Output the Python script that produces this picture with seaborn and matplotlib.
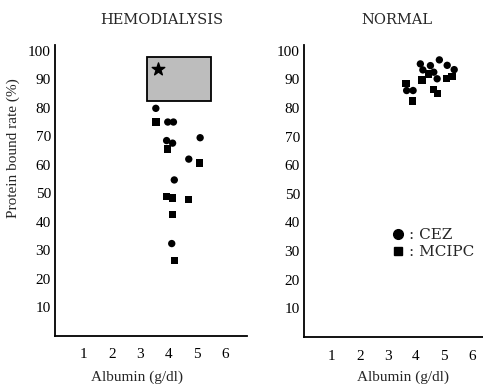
import numpy as np
import pandas as pd
import matplotlib
matplotlib.use("Agg")
import matplotlib.pyplot as plt
from matplotlib.patches import Rectangle
from matplotlib.lines import Line2D
import seaborn as sns

sns.set_theme(style="white")
plt.rcParams['font.family'] = ['Liberation Serif', 'DejaVu Serif']

# ---- data ----
hemo_cez_alb = [3.55, 3.97, 4.17, 5.11, 3.93, 4.14, 4.71, 4.20, 4.11]
hemo_cez_rate = [79.8, 75.0, 75.0, 69.5, 68.5, 67.6, 62.0, 54.7, 32.4]
hemo_mcipc_alb = [3.56, 3.97, 5.08, 3.93, 4.13, 4.69, 4.13, 4.20]
hemo_mcipc_rate = [75.0, 65.5, 60.6, 48.9, 48.4, 47.8, 42.5, 26.4]

norm_cez_alb = [4.16, 4.52, 4.84, 5.12, 5.37, 4.25, 4.64, 4.76, 3.67, 3.90]
norm_cez_rate = [95.4, 94.8, 96.8, 94.9, 93.4, 93.3, 92.5, 90.2, 86.1, 86.1]
norm_mcipc_alb = [4.46, 4.22, 5.09, 5.29, 3.65, 3.88, 4.64, 4.78]
norm_mcipc_rate = [91.9, 89.8, 90.4, 91.1, 88.6, 82.4, 86.4, 85.0]

box_alb = [3.23, 5.48]
box_rate = [82.4, 97.7]
star_alb = [3.64]
star_rate = [93.5]

x_ticks = [1, 2, 3, 4, 5, 6]
y_ticks = [10, 20, 30, 40, 50, 60, 70, 80, 90, 100]
titles = ["HEMODIALYSIS", "NORMAL"]
drugs = ["CEZ", "MCIPC"]

def frame(cez_x, cez_y, mc_x, mc_y):
    return pd.DataFrame({
        "alb": list(cez_x) + list(mc_x),
        "rate": list(cez_y) + list(mc_y),
        "drug": [drugs[0]] * len(cez_x) + [drugs[1]] * len(mc_x),
    })

df_h = frame(hemo_cez_alb, hemo_cez_rate, hemo_mcipc_alb, hemo_mcipc_rate)
df_n = frame(norm_cez_alb, norm_cez_rate, norm_mcipc_alb, norm_mcipc_rate)

fig = plt.figure(figsize=(4.83, 3.84), dpi=100)
ax1 = fig.add_axes([55 / 483, 48 / 384, 192 / 483, 291 / 384])
ax2 = fig.add_axes([304 / 483, 47 / 384, 179 / 483, 292 / 384])

markers = {"CEZ": "o", "MCIPC": "s"}

# shaded box behind the hemodialysis points
ax1.add_patch(Rectangle((box_alb[0], box_rate[0]), box_alb[1] - box_alb[0],
                        box_rate[1] - box_rate[0], facecolor="#bdbdbd",
                        edgecolor="black", linewidth=1.3, zorder=1))
ax1.scatter(star_alb, star_rate, marker="*", s=90, color="black", zorder=3)

sns.scatterplot(data=df_h, x="alb", y="rate", style="drug", markers=markers,
                color="black", s=28, linewidth=0, ax=ax1, legend=False, zorder=3)
sns.scatterplot(data=df_n, x="alb", y="rate", style="drug", markers=markers,
                color="black", s=28, linewidth=0, ax=ax2, legend=False, zorder=3)

for ax, xmax in ((ax1, 6.76), (ax2, 6.4)):
    ax.set_xlim(0, xmax)
    ax.set_ylim(0, 102)
    ax.set_xticks(x_ticks)
    ax.set_yticks(y_ticks)
    ax.set_xticklabels([str(v) for v in x_ticks])
    ax.set_yticklabels([str(v) for v in y_ticks])
    ax.tick_params(axis="both", length=0, labelsize=11, colors="black")
    ax.tick_params(axis="x", pad=9)
    ax.tick_params(axis="y", pad=3)
    for s in ("top", "right"):
        ax.spines[s].set_visible(False)
    for s in ("left", "bottom"):
        ax.spines[s].set_color("black")
        ax.spines[s].set_linewidth(1.3)
    ax.set_xlabel("")
    ax.set_ylabel("")
    ax.set_facecolor("white")

fig.text(162 / 483, 1 - 20 / 384, titles[0], ha="center", va="center",
         fontsize=10.5, family=["DejaVu Serif"])
fig.text(397 / 483, 1 - 20 / 384, titles[1], ha="center", va="center",
         fontsize=10.5, family=["DejaVu Serif"])
fig.text(137 / 483, 1 - 377 / 384, "Albumin (g/dl)", ha="center", va="center", fontsize=11)
fig.text(403 / 483, 1 - 377 / 384, "Albumin (g/dl)", ha="center", va="center", fontsize=11)
fig.text(13 / 483, 1 - 148 / 384, "Protein bound rate (%)", ha="center", va="center",
         rotation=90, fontsize=11)

handles = [Line2D([], [], marker=markers[d], color="black", linestyle="",
                  markersize=7 if d == "CEZ" else 6) for d in drugs]
leg = ax2.legend(handles, [": " + d for d in drugs], loc="center left",
                 bbox_to_anchor=(0.44, 0.32), frameon=False, handlelength=1.0,
                 handletextpad=0.2, labelspacing=0.2, borderpad=0,
                 prop={"family": "DejaVu Serif", "size": 11})

fig.savefig("out.png", dpi=100, facecolor="white")
